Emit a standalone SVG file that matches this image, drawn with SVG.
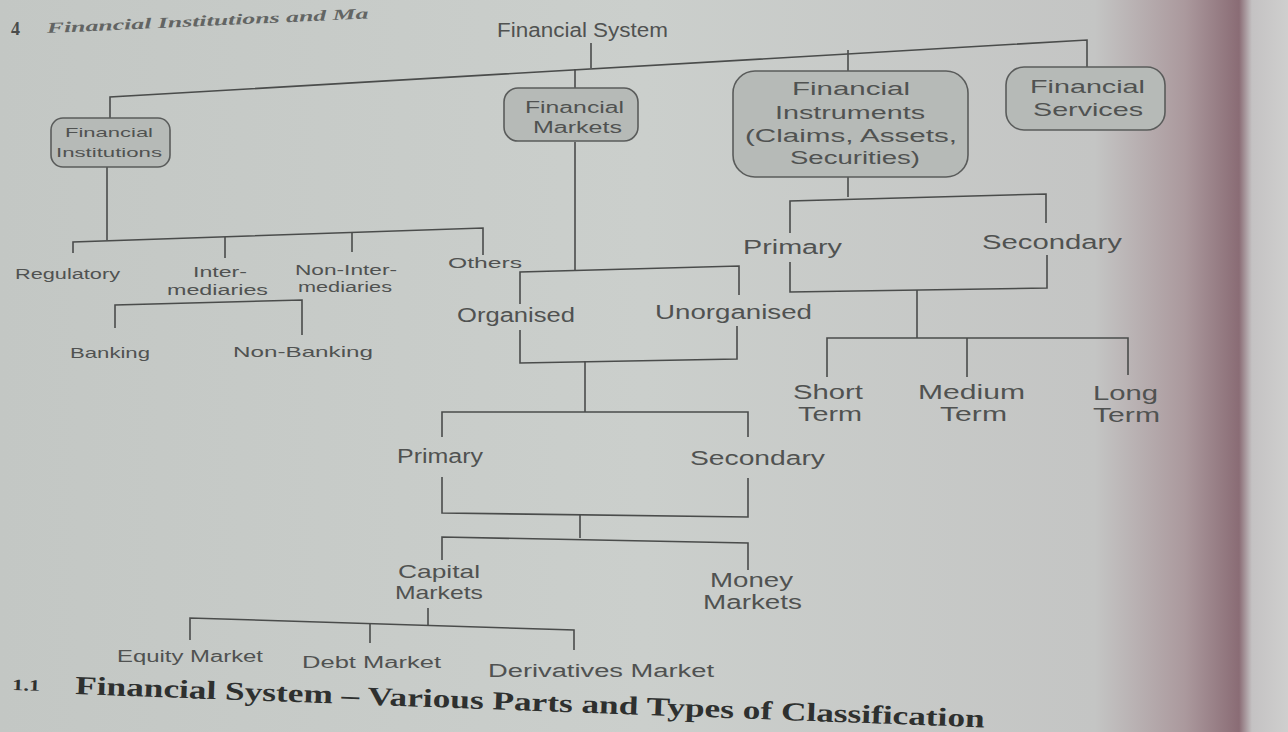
<svg xmlns="http://www.w3.org/2000/svg" width="1288" height="732" viewBox="0 0 1288 732">
<defs>
<linearGradient id="bg" x1="0" y1="0" x2="1" y2="0">
<stop offset="0" stop-color="#c3c7c4"/>
<stop offset="0.5" stop-color="#cbcfcc"/>
<stop offset="0.85" stop-color="#c4c5c4"/>
<stop offset="0.92" stop-color="#ab999d"/>
<stop offset="0.962" stop-color="#8a6c75"/>
<stop offset="0.972" stop-color="#c4c2c3"/>
<stop offset="1" stop-color="#cfcfce"/>
</linearGradient>
<style>
.ln{fill:none;stroke:#4a4c4b;stroke-width:1.6}
.bx{fill:#b6bab7;stroke:#5a5c5b;stroke-width:1.6}
text{font-family:"Liberation Sans",Arial,sans-serif;fill:#505251}
.cap{font-family:"Liberation Serif","Times New Roman",serif;font-weight:bold;fill:#2e302f}
.hdr{font-family:"Liberation Serif","Times New Roman",serif;font-weight:bold;fill:#4a4c4b}
</style>
</defs>
<rect x="0" y="0" width="1288" height="732" fill="url(#bg)"/>

<text class="hdr" x="11" y="35" font-size="18">4</text>
<text class="hdr" x="47" y="33" font-size="15" font-style="italic" transform="rotate(-2.6 47 33)" textLength="322" lengthAdjust="spacingAndGlyphs" opacity="0.8">Financial Institutions and Ma</text>

<g id="connectors">
<path class="ln" d="M591 43 V68"/>
<path class="ln" d="M110 118 V97 L1087 40 V67"/>
<path class="ln" d="M575 69 V88"/>
<path class="ln" d="M848 50 V72"/>
<path class="ln" d="M107 167 V240"/>
<path class="ln" d="M73 253 V242 L483 228 V255"/>
<path class="ln" d="M225 237 V258"/>
<path class="ln" d="M352 233 V252"/>
<path class="ln" d="M115 328 V305 L302 300 V335"/>
<path class="ln" d="M575 142 V270"/>
<path class="ln" d="M520 304 V272 L739 266 V295"/>
<path class="ln" d="M520 330 V363 L737 359 V326"/>
<path class="ln" d="M585 361 V412"/>
<path class="ln" d="M442 437 V412 H748 V437"/>
<path class="ln" d="M442 477 V513 L748 517 V478"/>
<path class="ln" d="M580 515 V538"/>
<path class="ln" d="M442 560 V537 L748 543 V570"/>
<path class="ln" d="M428 608 V625"/>
<path class="ln" d="M190 640 V618 L574 630 V650"/>
<path class="ln" d="M370 624 V643"/>
<path class="ln" d="M848 177 V197"/>
<path class="ln" d="M790 233 V201 L1046 194 V223"/>
<path class="ln" d="M790 262 V292 L1047 288 V255"/>
<path class="ln" d="M917 290 V338"/>
<path class="ln" d="M827 377 V338 H1128 V375"/>
<path class="ln" d="M967 338 V377"/>
</g>

<g id="financial-system"><text x="497" y="37" font-size="20" textLength="171" lengthAdjust="spacingAndGlyphs">Financial System</text></g>

<g id="financial-institutions">
<rect class="bx" x="51" y="118" width="119" height="49" rx="12"/>
<text x="65" y="137" font-size="13" textLength="88" lengthAdjust="spacingAndGlyphs">Financial</text>
<text x="56" y="157" font-size="13" textLength="106" lengthAdjust="spacingAndGlyphs">Institutions</text>
</g>
<g id="financial-markets">
<rect class="bx" x="504" y="88" width="134" height="53" rx="14"/>
<text x="525" y="113" font-size="16" textLength="99" lengthAdjust="spacingAndGlyphs">Financial</text>
<text x="533" y="133" font-size="16" textLength="89" lengthAdjust="spacingAndGlyphs">Markets</text>
</g>
<g id="financial-instruments">
<rect class="bx" x="733" y="71" width="235" height="106" rx="22"/>
<text x="792" y="95" font-size="18" textLength="118" lengthAdjust="spacingAndGlyphs">Financial</text>
<text x="775" y="119" font-size="18" textLength="150" lengthAdjust="spacingAndGlyphs">Instruments</text>
<text x="745" y="142" font-size="18" textLength="212" lengthAdjust="spacingAndGlyphs">(Claims, Assets,</text>
<text x="790" y="164" font-size="18" textLength="130" lengthAdjust="spacingAndGlyphs">Securities)</text>
</g>
<g id="financial-services">
<rect class="bx" x="1006" y="67" width="159" height="63" rx="18"/>
<text x="1030" y="93" font-size="19" textLength="115" lengthAdjust="spacingAndGlyphs">Financial</text>
<text x="1033" y="116" font-size="19" textLength="110" lengthAdjust="spacingAndGlyphs">Services</text>
</g>

<g id="regulatory"><text x="15" y="279" font-size="14" textLength="105" lengthAdjust="spacingAndGlyphs">Regulatory</text></g>
<g id="intermediaries">
<text x="193" y="277" font-size="14" textLength="54" lengthAdjust="spacingAndGlyphs">Inter-</text>
<text x="167" y="295" font-size="14" textLength="101" lengthAdjust="spacingAndGlyphs">mediaries</text>
</g>
<g id="non-intermediaries">
<text x="295" y="275" font-size="14" textLength="102" lengthAdjust="spacingAndGlyphs">Non-Inter-</text>
<text x="298" y="292" font-size="14" textLength="94" lengthAdjust="spacingAndGlyphs">mediaries</text>
</g>
<g id="others"><text x="448" y="268" font-size="15" textLength="74" lengthAdjust="spacingAndGlyphs">Others</text></g>
<g id="banking"><text x="70" y="358" font-size="15" textLength="80" lengthAdjust="spacingAndGlyphs">Banking</text></g>
<g id="non-banking"><text x="233" y="357" font-size="15" textLength="140" lengthAdjust="spacingAndGlyphs">Non-Banking</text></g>

<g id="organised"><text x="457" y="322" font-size="20" textLength="118" lengthAdjust="spacingAndGlyphs">Organised</text></g>
<g id="unorganised"><text x="655" y="319" font-size="20" textLength="157" lengthAdjust="spacingAndGlyphs">Unorganised</text></g>
<g id="fm-primary"><text x="397" y="463" font-size="20" textLength="86" lengthAdjust="spacingAndGlyphs">Primary</text></g>
<g id="fm-secondary"><text x="690" y="465" font-size="20" textLength="135" lengthAdjust="spacingAndGlyphs">Secondary</text></g>
<g id="capital-markets">
<text x="398" y="578" font-size="19" textLength="82" lengthAdjust="spacingAndGlyphs">Capital</text>
<text x="395" y="599" font-size="19" textLength="88" lengthAdjust="spacingAndGlyphs">Markets</text>
</g>
<g id="money-markets">
<text x="710" y="587" font-size="20" textLength="83" lengthAdjust="spacingAndGlyphs">Money</text>
<text x="703" y="609" font-size="20" textLength="99" lengthAdjust="spacingAndGlyphs">Markets</text>
</g>
<g id="equity-market"><text x="117" y="662" font-size="16" textLength="146" lengthAdjust="spacingAndGlyphs">Equity Market</text></g>
<g id="debt-market"><text x="302" y="668" font-size="16" textLength="139" lengthAdjust="spacingAndGlyphs">Debt Market</text></g>
<g id="derivatives-market"><text x="488" y="677" font-size="18" textLength="226" lengthAdjust="spacingAndGlyphs">Derivatives Market</text></g>

<g id="fi-primary"><text x="743" y="254" font-size="20" textLength="99" lengthAdjust="spacingAndGlyphs">Primary</text></g>
<g id="fi-secondary"><text x="982" y="249" font-size="20" textLength="140" lengthAdjust="spacingAndGlyphs">Secondary</text></g>
<g id="short-term">
<text x="793" y="399" font-size="21" textLength="70" lengthAdjust="spacingAndGlyphs">Short</text>
<text x="798" y="421" font-size="21" textLength="64" lengthAdjust="spacingAndGlyphs">Term</text>
</g>
<g id="medium-term">
<text x="918" y="399" font-size="21" textLength="107" lengthAdjust="spacingAndGlyphs">Medium</text>
<text x="940" y="421" font-size="21" textLength="67" lengthAdjust="spacingAndGlyphs">Term</text>
</g>
<g id="long-term">
<text x="1093" y="400" font-size="21" textLength="65" lengthAdjust="spacingAndGlyphs">Long</text>
<text x="1093" y="422" font-size="21" textLength="67" lengthAdjust="spacingAndGlyphs">Term</text>
</g>

<text class="cap" x="12" y="690" font-size="16" font-weight="normal" textLength="28" lengthAdjust="spacingAndGlyphs" transform="rotate(2.1 12 690)">1.1</text>
<text class="cap" x="75" y="694" font-size="26" textLength="910" lengthAdjust="spacingAndGlyphs" transform="rotate(2.1 75 694)">Financial System – Various Parts and Types of Classification</text>
</svg>
